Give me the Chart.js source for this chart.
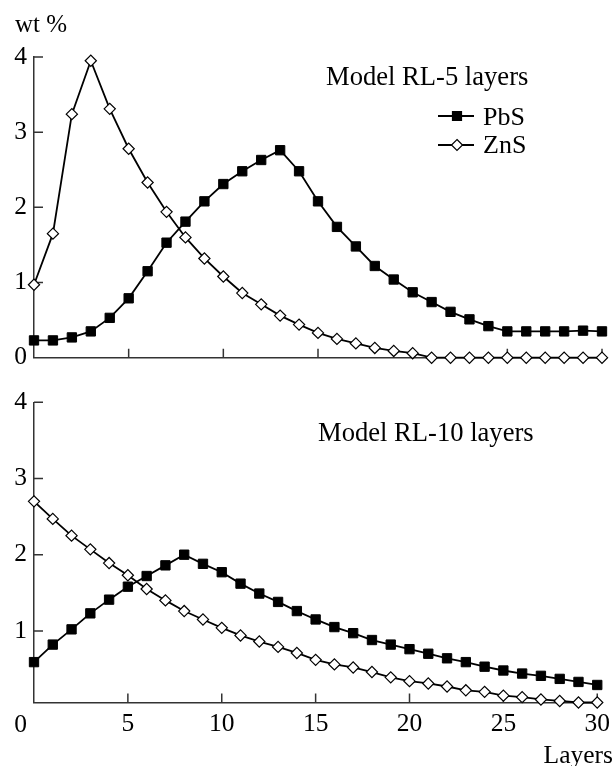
<!DOCTYPE html>
<html>
<head>
<meta charset="utf-8">
<script src="https://cdn.jsdelivr.net/npm/chart.js@4.4.1/dist/chart.umd.min.js"></script>
<style>
  body { margin: 0; background: #fff; }
  .wrap { position: relative; width: 616px; height: 766px; }
  canvas { position: absolute; left: 0; }
</style>
</head>
<body>
<div class="wrap">
  <canvas id="top" width="616" height="380" style="top:0"></canvas>
  <canvas id="bottom" width="616" height="386" style="top:380px"></canvas>
</div>
<script>
const layers = [0, 1, 2, 3, 4, 5, 6, 7, 8, 9, 10, 11, 12, 13, 14, 15, 16, 17, 18, 19, 20, 21, 22, 23, 24, 25, 26, 27, 28, 29, 30];

// Model RL-5 layers
const pbsRL5 = [0.23, 0.23, 0.27, 0.35, 0.53, 0.79, 1.15, 1.53, 1.81, 2.08, 2.31, 2.48, 2.63, 2.76, 2.48, 2.08,
  1.74, 1.48, 1.22, 1.04, 0.87, 0.74, 0.61, 0.51, 0.42, 0.35, 0.35, 0.35, 0.35, 0.36, 0.35];
const znsRL5 = [0.97, 1.65, 3.24, 3.95, 3.31, 2.78, 2.33, 1.94, 1.60, 1.32, 1.08, 0.86, 0.71, 0.56, 0.44, 0.33,
  0.25, 0.19, 0.13, 0.09, 0.06, 0, 0, 0, 0, 0, 0, 0, 0, 0, 0];

// Model RL-10 layers
const pbsRL10 = [0.59, 0.82, 1.02, 1.23, 1.41, 1.58, 1.72, 1.86, 2.00, 1.88, 1.77, 1.62, 1.49, 1.38, 1.26, 1.15,
  1.05, 0.97, 0.88, 0.82, 0.76, 0.70, 0.64, 0.59, 0.53, 0.48, 0.44, 0.41, 0.37, 0.33, 0.29];
const znsRL10 = [2.70, 2.47, 2.25, 2.07, 1.89, 1.73, 1.55, 1.40, 1.26, 1.15, 1.04, 0.94, 0.86, 0.79, 0.71, 0.62,
  0.56, 0.52, 0.46, 0.39, 0.34, 0.31, 0.27, 0.22, 0.20, 0.15, 0.13, 0.10, 0.08, 0.06, 0.06];

const xTicks = [0, 5, 10, 15, 20, 25, 30];
const yTicksTop = [0, 1, 2, 3, 4];
const yTicksBottom = [1, 2, 3, 4];

const FONT = "Liberation Serif";
const AXIS = "#333";
const TICK_SIZE = 25.5;

// inward ticks + free text (titles, legend, axis names)
function decor(cfg) {
  return {
    id: "decor",
    beforeDatasetsDraw(chart) {
      const { ctx, chartArea, scales } = chart;
      ctx.save();
      ctx.strokeStyle = AXIS;
      ctx.lineWidth = 1.5;
      ctx.beginPath();
      xTicks.filter(v => v > 0).forEach(v => {
        const px = scales.x.getPixelForValue(v);
        ctx.moveTo(px, chartArea.bottom);
        ctx.lineTo(px, chartArea.bottom - 9);
      });
      cfg.yTicks.filter(v => v > 0).forEach(v => {
        const py = scales.y.getPixelForValue(v);
        ctx.moveTo(chartArea.left, py);
        ctx.lineTo(chartArea.left + 9, py);
      });
      ctx.stroke();
      ctx.restore();
    },
    afterDraw(chart) {
      const ctx = chart.ctx;
      ctx.save();
      ctx.fillStyle = "#000";
      ctx.textBaseline = "alphabetic";
      cfg.texts.forEach(t => {
        ctx.font = `${t.size || TICK_SIZE}px "${FONT}"`;
        ctx.textAlign = t.align || "left";
        ctx.fillText(t.text, t.x, t.y);
      });
      if (cfg.legend) {
        const rows = [
          { label: "PbS", y: 116, base: 125, style: "rect" },
          { label: "ZnS", y: 145, base: 153, style: "diamond" }
        ];
        ctx.font = `26px "${FONT}"`;
        rows.forEach(r => {
          ctx.strokeStyle = "#000";
          ctx.lineWidth = 1.8;
          ctx.beginPath();
          ctx.moveTo(438, r.y);
          ctx.lineTo(474, r.y);
          ctx.stroke();
          ctx.lineWidth = 1.2;
          ctx.beginPath();
          if (r.style === "rect") {
            ctx.rect(452.5, r.y - 4.5, 9, 9);
            ctx.fillStyle = "#000";
          } else {
            ctx.moveTo(457, r.y - 5.5);
            ctx.lineTo(462.5, r.y);
            ctx.lineTo(457, r.y + 5.5);
            ctx.lineTo(451.5, r.y);
            ctx.closePath();
            ctx.fillStyle = "#fff";
          }
          ctx.fill();
          ctx.stroke();
          ctx.fillStyle = "#000";
          ctx.textAlign = "left";
          ctx.fillText(r.label, 483, r.base);
        });
      }
      ctx.restore();
    }
  };
}

function panel(id, pbs, zns, cfg) {
  const tickFont = { family: FONT, size: TICK_SIZE };
  return new Chart(document.getElementById(id), {
    type: "line",
    data: {
      datasets: [
        {
          label: "PbS",
          data: layers.map((x, i) => ({ x, y: pbs[i] })),
          borderColor: "#000",
          borderWidth: 1.8,
          pointStyle: "rect",
          pointRadius: 6.6,
          pointBackgroundColor: "#000",
          pointBorderColor: "#000",
          pointBorderWidth: 1,
          tension: 0,
          clip: false
        },
        {
          label: "ZnS",
          data: layers.map((x, i) => ({ x, y: zns[i] })),
          borderColor: "#000",
          borderWidth: 1.8,
          pointStyle: "rectRot",
          pointRadius: 5.6,
          pointBackgroundColor: "#fff",
          pointBorderColor: "#000",
          pointBorderWidth: 1.2,
          tension: 0,
          clip: false
        }
      ]
    },
    options: {
      responsive: false,
      animation: false,
      events: [],
      layout: { padding: { top: cfg.padTop, right: 14, left: 0, bottom: 0 } },
      plugins: { legend: { display: false }, tooltip: { enabled: false } },
      scales: {
        x: {
          type: "linear",
          min: 0,
          max: 30,
          grid: { display: false, drawTicks: false },
          border: { color: AXIS, width: 1.5 },
          ticks: {
            display: cfg.xLabels,
            padding: 6,
            color: "#000",
            font: tickFont,
            maxRotation: 0,
            callback: v => (v === 0 ? "" : String(v))
          },
          afterBuildTicks: s => { s.ticks = xTicks.map(v => ({ value: v })); },
          afterFit: s => { s.height = cfg.xHeight; }
        },
        y: {
          min: cfg.yMin,
          max: 4,
          grid: { display: false, drawTicks: false },
          border: { color: AXIS, width: 1.5 },
          ticks: { padding: 7, color: "#000", font: tickFont },
          afterBuildTicks: s => { s.ticks = cfg.yTicks.map(v => ({ value: v })); },
          afterFit: s => { s.width = 34; }
        }
      }
    },
    plugins: [decor(cfg)]
  });
}

panel("top", pbsRL5, znsRL5, {
  padTop: 57,
  xHeight: 21,
  xLabels: false,
  yMin: 0,
  yTicks: yTicksTop,
  legend: true,
  texts: [
    { text: "wt %", x: 15, y: 32, size: 25 },
    { text: "Model RL-5 layers", x: 326, y: 85, size: 26.6 }
  ]
});

// the origin "0" sits left of the corner, so it is drawn apart from the x labels
panel("bottom", pbsRL10, znsRL10, {
  padTop: 15,
  xHeight: 63.5,
  xLabels: true,
  yMin: 0.06,
  yTicks: yTicksBottom,
  legend: false,
  texts: [
    { text: "Model RL-10 layers", x: 318, y: 61, size: 26.6 },
    { text: "0", x: 27, y: 352, align: "right" },
    { text: "Layers", x: 613, y: 383, align: "right", size: 25.5 }
  ]
});
</script>
</body>
</html>
